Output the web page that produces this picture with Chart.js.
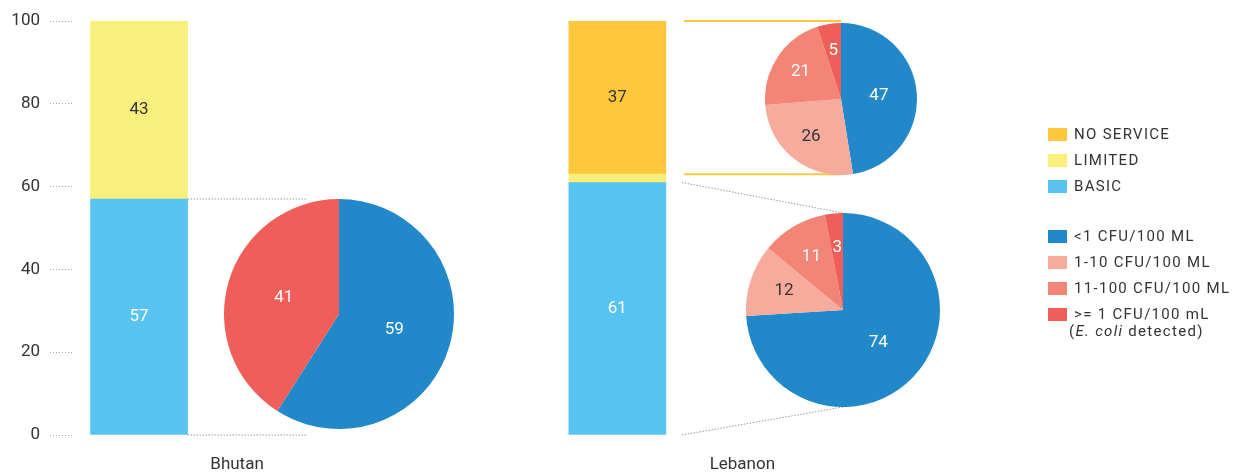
<!DOCTYPE html>
<html>
<head>
<meta charset="utf-8">
<script src="https://cdn.jsdelivr.net/npm/chart.js@4.4.0/dist/chart.umd.min.js"></script>
<style>
    body { margin: 0; background: #fff; font-family: Roboto, sans-serif; }
    #wrap { position: relative; width: 1234px; height: 473px; overflow: hidden; }
    #main { position: absolute; left: 0; top: 0; }
    .pie { position: absolute; }
    #legend { position: absolute; left: 1048px; top: 121px; font-size: 15px; color: #333; letter-spacing: 1.3px; }
    #legend .item { display: flex; align-items: center; height: 26px; white-space: nowrap; }
    #legend .sw { width: 19px; height: 13px; margin-right: 7px; flex: none; }
    #legend .gap { height: 24px; }
    #legend .note { margin-left: 21px; line-height: 17px; margin-top: -4px; white-space: nowrap; }
</style>
</head>
<body>
<div id="wrap">
    <canvas id="main" width="1234" height="473"></canvas>
    <div id="legend"></div>
</div>
<script>
// Data
const categories = ['Bhutan', 'Lebanon'];
const basic = [57, 61];
const limited = [43, 2];
const noService = [0, 37];
const yTicks = [0, 20, 40, 60, 80, 100];

const qualityLabels = ['<1 CFU/100 ML', '1-10 CFU/100 ML', '11-100 CFU/100 ML', '>= 1 CFU/100 mL'];
const qualityNote = '(<i>E. coli</i> detected)';
const bhutanBasicQuality = [59, 0, 0, 41];
const lebanonNoServiceQuality = [47, 26, 21, 5];
const lebanonBasicQuality = [74, 12, 11, 3];

// Styles
const accessColors = { basic: '#56C3F0', limited: '#F9EF7C', noService: '#FFC73B' };
const qualityColors = ['#2188C9', '#F7AB9D', '#F38577', '#F05E5A'];
const qualityTextColors = ['#fff', '#333', '#fff', '#fff'];
const FONT = 'Roboto, sans-serif';
const catLabelShift = [98, 125];

// Pie placement (pixels) and the bar span each pie is linked to
const pieLayout = [
    { id: 'pieBhutan', data: bhutanBasicQuality, cat: 0,
      from: [basic[0], 0], cx: 339, cy: 314, r: 115,
      flat: true, inset: 33, gap: 0, color: '#999', dash: [1.5, 1.5], width: 1 },
    { id: 'pieLebTop', data: lebanonNoServiceQuality, cat: 1,
      from: [basic[1] + limited[1] + noService[1], basic[1] + limited[1]], cx: 841, cy: 99, r: 76,
      flat: true, inset: 0, gap: 18, color: '#FFC73B', dash: [], width: 2 },
    { id: 'pieLebBottom', data: lebanonBasicQuality, cat: 1,
      from: [basic[1], 0], cx: 843, cy: 310, r: 97,
      flat: false, inset: 0, gap: 16, color: '#999', dash: [1.5, 1.5], width: 1 }
];

const barLabels = {
    id: 'barLabels',
    afterDatasetsDraw(chart) {
        const { ctx } = chart;
        ctx.save();
        ctx.font = `17px ${FONT}`;
        ctx.textAlign = 'center';
        ctx.textBaseline = 'middle';
        chart.data.datasets.forEach((ds, d) => {
            chart.getDatasetMeta(d).data.forEach((bar, i) => {
                const v = ds.data[i].y;
                if (v < 5) return;
                const p = bar.getProps(['x', 'y', 'base'], true);
                ctx.fillStyle = ds.textColor;
                ctx.fillText(v, p.x, (p.y + p.base) / 2);
            });
        });
        ctx.restore();
    }
};

const connectors = {
    id: 'connectors',
    afterDatasetsDraw(chart) {
        const { ctx } = chart;
        const yScale = chart.scales.y;
        const meta = chart.getDatasetMeta(0);
        pieLayout.forEach(p => {
            const bar = meta.data[p.cat].getProps(['x', 'width'], true);
            const x1 = bar.x + bar.width / 2 + p.gap;
            const ends = [[p.from[0], p.cy - p.r], [p.from[1], p.cy + p.r]];
            ctx.save();
            ctx.strokeStyle = p.color;
            ctx.lineWidth = p.width;
            ctx.setLineDash(p.dash);
            ends.forEach(([v, py]) => {
                const y1 = yScale.getPixelForValue(v);
                ctx.beginPath();
                ctx.moveTo(x1, y1);
                ctx.lineTo(p.cx - p.inset, p.flat ? y1 : py);
                ctx.stroke();
            });
            ctx.restore();
        });
    }
};

const categoryLabels = {
    id: 'categoryLabels',
    afterDraw(chart) {
        const { ctx, chartArea } = chart;
        const xScale = chart.scales.x;
        ctx.save();
        ctx.font = `17px ${FONT}`;
        ctx.fillStyle = '#333';
        ctx.textAlign = 'center';
        ctx.textBaseline = 'middle';
        categories.forEach((c, i) => {
            ctx.fillText(c, xScale.getPixelForValue(i) + catLabelShift[i], chartArea.bottom + 30);
        });
        ctx.restore();
    }
};

const sliceLabels = {
    id: 'sliceLabels',
    afterDatasetsDraw(chart) {
        const { ctx } = chart;
        const values = chart.data.datasets[0].data;
        const total = values.reduce((a, b) => a + b, 0);
        ctx.save();
        ctx.font = `17px ${FONT}`;
        ctx.textAlign = 'center';
        ctx.textBaseline = 'middle';
        chart.getDatasetMeta(0).data.forEach((arc, i) => {
            const v = values[i];
            if (!v) return;
            const a = arc.getProps(['x', 'y', 'startAngle', 'endAngle', 'outerRadius'], true);
            const mid = (a.startAngle + a.endAngle) / 2;
            const k = v / total >= 0.4 ? 0.5 : 0.64;
            ctx.fillStyle = qualityTextColors[i];
            ctx.fillText(v, a.x + Math.cos(mid) * a.outerRadius * k, a.y + Math.sin(mid) * a.outerRadius * k);
        });
        ctx.restore();
    }
};

function toPoints(values) {
    return values.map((v, i) => ({ x: i, y: v }));
}

new Chart(document.getElementById('main'), {
    type: 'bar',
    data: {
        datasets: [
            { label: 'BASIC', data: toPoints(basic), backgroundColor: accessColors.basic, textColor: '#fff', barThickness: 97 },
            { label: 'LIMITED', data: toPoints(limited), backgroundColor: accessColors.limited, textColor: '#333', barThickness: 97 },
            { label: 'NO SERVICE', data: toPoints(noService), backgroundColor: accessColors.noService, textColor: '#333', barThickness: 97 }
        ]
    },
    options: {
        responsive: false,
        animation: false,
        events: [],
        layout: { padding: { top: 21, bottom: 38, left: 10, right: 234 } },
        plugins: { legend: { display: false }, tooltip: { enabled: false } },
        scales: {
            x: { type: 'linear', stacked: true, offset: false, min: -0.136, max: 1.8, display: false },
            y: {
                stacked: true,
                min: 0,
                max: 100,
                afterBuildTicks: (scale) => { scale.ticks = yTicks.map(v => ({ value: v })); },
                afterFit: (scale) => { scale.width = 64; },
                ticks: { color: '#333', padding: 10, font: { size: 17, family: FONT } },
                grid: { drawOnChartArea: false, tickLength: 24, tickColor: '#aaa', tickBorderDash: [1, 2] },
                border: { display: false }
            }
        }
    },
    plugins: [connectors, barLabels, categoryLabels]
});

// Pies
const wrap = document.getElementById('wrap');
pieLayout.forEach(p => {
    const box = document.createElement('div');
    box.className = 'pie';
    box.style.left = (p.cx - p.r) + 'px';
    box.style.top = (p.cy - p.r) + 'px';
    box.style.width = (2 * p.r) + 'px';
    box.style.height = (2 * p.r) + 'px';
    const canvas = document.createElement('canvas');
    canvas.id = p.id;
    box.appendChild(canvas);
    wrap.insertBefore(box, document.getElementById('legend'));

    new Chart(canvas, {
        type: 'pie',
        data: {
            labels: qualityLabels,
            datasets: [{ data: p.data, backgroundColor: qualityColors, borderWidth: 0, hoverOffset: 0 }]
        },
        options: {
            responsive: true,
            maintainAspectRatio: false,
            animation: false,
            events: [],
            layout: { padding: 0 },
            plugins: { legend: { display: false }, tooltip: { enabled: false } }
        },
        plugins: [sliceLabels]
    });
});

// Legend
const accessItems = [
    ['NO SERVICE', accessColors.noService],
    ['LIMITED', accessColors.limited],
    ['BASIC', accessColors.basic]
];
const legendEl = document.getElementById('legend');
legendEl.innerHTML =
    accessItems.map(([t, c]) => `<div class="item"><span class="sw" style="background:${c}"></span>${t}</div>`).join('') +
    '<div class="gap"></div>' +
    qualityLabels.map((t, i) => {
        const txt = t.replace(/</g, '&lt;').replace(/>/g, '&gt;');
        return `<div class="item"><span class="sw" style="background:${qualityColors[i]}"></span>${txt}</div>`;
    }).join('') +
    `<div class="note">${qualityNote}</div>`;
</script>
</body>
</html>
